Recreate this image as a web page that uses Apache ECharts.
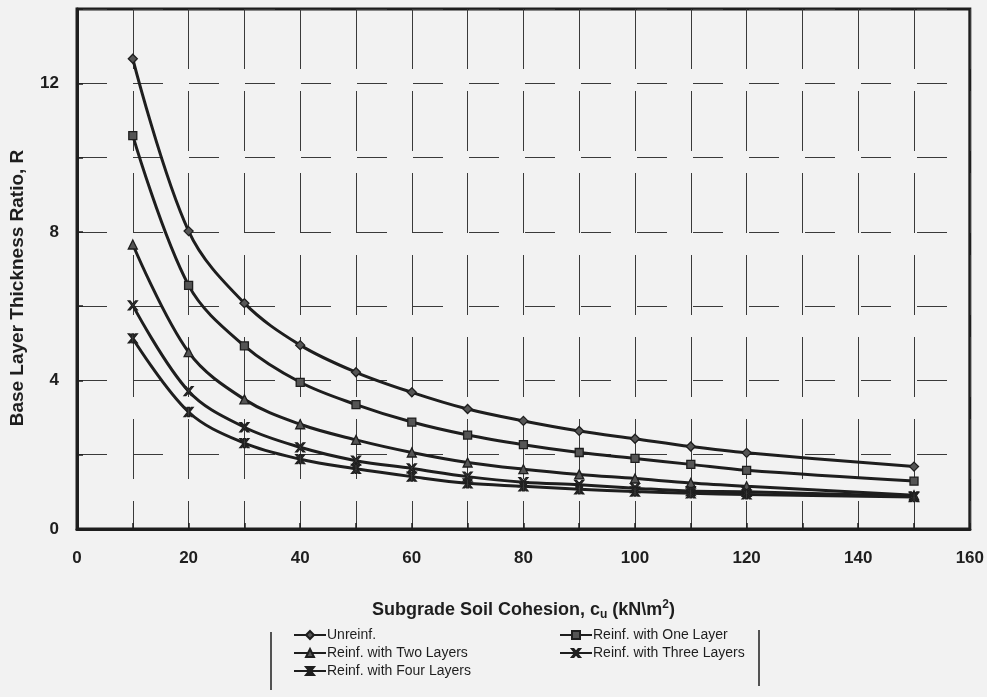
<!DOCTYPE html>
<html>
<head>
<meta charset="utf-8">
<title>Base layer thickness ratio</title>
<script src="https://cdn.jsdelivr.net/npm/echarts@6/dist/echarts.min.js"></script>
<style>
  html, body { margin: 0; padding: 0; background: #f2f2f2; }
  #chart { width: 987px; height: 697px; }
</style>
</head>
<body>
<div id="chart"></div>
<script>
// subgrade cohesion c_u (kN/m2)
var cohesion = [10, 20, 30, 40, 50, 60, 70, 80, 90, 100, 110, 120, 150];

// base layer thickness ratio R
var unreinf    = [12.66, 8.02, 6.08, 4.95, 4.22, 3.68, 3.23, 2.91, 2.64, 2.43, 2.22, 2.05, 1.68];
var oneLayer   = [10.59, 6.56, 4.93, 3.95, 3.35, 2.88, 2.53, 2.27, 2.06, 1.90, 1.74, 1.58, 1.29];
var twoLayers  = [7.66, 4.76, 3.49, 2.82, 2.40, 2.06, 1.79, 1.61, 1.47, 1.36, 1.24, 1.15, 0.91];
var threeLayers = [6.02, 3.71, 2.74, 2.20, 1.84, 1.63, 1.41, 1.26, 1.19, 1.10, 1.02, 1.00, 0.88];
var fourLayers = [5.13, 3.15, 2.31, 1.88, 1.62, 1.41, 1.23, 1.15, 1.07, 1.01, 0.96, 0.93, 0.86];

var names = ['Unreinf.', 'Reinf. with One Layer', 'Reinf. with Two Layers',
             'Reinf. with Three Layers', 'Reinf. with Four Layers'];

var xSym = 'path://M0,0 L2,0 L5,3.5 L8,0 L10,0 L6,5 L10,10 L8,10 L5,6.5 L2,10 L0,10 L4,5 Z';
var starSym = 'path://M0,0 L2,0 L4,2.5 L4,0 L6,0 L6,2.5 L8,0 L10,0 L6,5 L10,10 L8,10 L6,7.5 L6,10 L4,10 L4,7.5 L2,10 L0,10 L4,5 Z';

var font = "'Liberation Sans Narrow', 'Liberation Sans', Arial, sans-serif";
var ink = '#1e1e1e';

function pairs(ys) {
    return cohesion.map(function (x, i) { return [x, ys[i]]; });
}

function mkSeries(name, ys, symbol, size) {
    return {
        name: name,
        type: 'line',
        data: pairs(ys),
        smooth: 0.35,
        symbol: symbol,
        symbolSize: size,
        showSymbol: true,
        lineStyle: { color: ink, width: 3 },
        itemStyle: { color: '#555', borderColor: ink, borderWidth: 1.3 },
        emphasis: { disabled: true },
        z: 3
    };
}

var chart = echarts.init(document.getElementById('chart'));

chart.setOption({
    backgroundColor: '#f2f2f2',
    animation: false,
    grid: {
        left: 75, right: 17, top: 9, bottom: 168,
        show: true, borderColor: ink, borderWidth: 3,
        containLabel: false
    },
    xAxis: {
        type: 'value',
        min: 0, max: 160, interval: 10,
        axisLine: { lineStyle: { color: ink, width: 3 } },
        axisTick: { show: true, inside: true, length: 6, lineStyle: { color: ink, width: 1.5 } },
        axisLabel: {
            margin: 21,
            fontFamily: font, fontWeight: 'bold', fontSize: 17, color: ink,
            formatter: function (v) { return v % 20 === 0 ? String(v) : ''; }
        },
        splitLine: { show: true, lineStyle: { color: '#3a3a3a', width: 1, type: [60, 22] } },
        name: '{t|Subgrade Soil Cohesion, c}{s|u}{t| (kN\\m}{p|2}{t|)}',
        nameLocation: 'middle',
        nameGap: 70,
        nameTextStyle: {
            rich: {
                t: { fontFamily: font, fontWeight: 'bold', fontSize: 18, color: ink },
                s: { fontFamily: font, fontWeight: 'bold', fontSize: 12, color: ink, padding: [10, 0, 0, 0] },
                p: { fontFamily: font, fontWeight: 'bold', fontSize: 12, color: ink, padding: [0, 0, 10, 0] }
            }
        }
    },
    yAxis: {
        type: 'value',
        min: 0, max: 14, interval: 2,
        axisLine: { show: true, lineStyle: { color: ink, width: 3 } },
        axisTick: { show: true, inside: true, length: 6, lineStyle: { color: ink, width: 1.5 } },
        axisLabel: {
            margin: 18,
            fontFamily: font, fontWeight: 'bold', fontSize: 17, color: ink,
            formatter: function (v) { return v % 4 === 0 ? String(v) : ''; }
        },
        splitLine: { show: true, lineStyle: { color: '#3a3a3a', width: 1, type: [30, 26] } },
        name: 'Base Layer Thickness Ratio, R',
        nameLocation: 'middle',
        nameGap: 50,
        nameTextStyle: { fontFamily: font, fontWeight: 'bold', fontSize: 19, color: ink, padding: [0, 38, 0, 0] }
    },
    legend: [{
        data: [names[0], names[2], names[4]],
        orient: 'vertical',
        left: 288, top: 623,
        itemGap: 4, itemWidth: 32, itemHeight: 10,
        textStyle: { fontFamily: font, fontSize: 14, color: ink, padding: [0, 0, 0, -4] }
    }, {
        data: [names[1], names[3]],
        orient: 'vertical',
        left: 554, top: 623,
        itemGap: 4, itemWidth: 32, itemHeight: 10,
        textStyle: { fontFamily: font, fontSize: 14, color: ink, padding: [0, 0, 0, -4] }
    }],
    graphic: [
        { type: 'line', shape: { x1: 271, y1: 632, x2: 271, y2: 690 }, style: { stroke: ink, lineWidth: 1.5 } },
        { type: 'line', shape: { x1: 759, y1: 630, x2: 759, y2: 686 }, style: { stroke: ink, lineWidth: 1.5 } }
    ],
    series: [
        mkSeries(names[0], unreinf, 'diamond', 9),
        mkSeries(names[1], oneLayer, 'rect', 8),
        mkSeries(names[2], twoLayers, 'triangle', 9),
        mkSeries(names[3], threeLayers, xSym, 9),
        mkSeries(names[4], fourLayers, starSym, 9)
    ]
});
</script>
</body>
</html>
